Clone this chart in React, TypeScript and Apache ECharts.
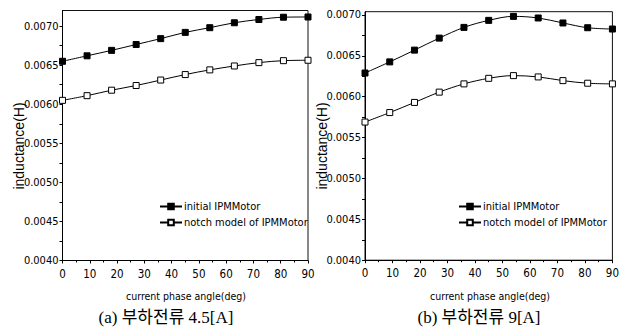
import React, { useEffect, useRef } from "react";
import * as echarts from "echarts";

const angles = [0, 9, 18, 27, 36, 45, 54, 63, 72, 81, 90];
const initialA = [0.00655, 0.00662, 0.00669, 0.006765, 0.00684, 0.00692, 0.00698, 0.007043, 0.007085, 0.007114, 0.007117];
const notchA = [0.00605, 0.00611, 0.00618, 0.00624, 0.00631, 0.00638, 0.00644, 0.00649, 0.006533, 0.006558, 0.006563];
const initialB = [0.00629, 0.006426, 0.00657, 0.006717, 0.006848, 0.006934, 0.006983, 0.006963, 0.006902, 0.006844, 0.006828];
const notchB = [0.00569, 0.005806, 0.00593, 0.006056, 0.006157, 0.006225, 0.006258, 0.006242, 0.006197, 0.006165, 0.006157];
const yTicks = [0.004, 0.0045, 0.005, 0.0055, 0.006, 0.0065, 0.007];
const yTicksAll = [0.004, 0.00425, 0.0045, 0.00475, 0.005, 0.00525, 0.0055, 0.00575, 0.006, 0.00625, 0.0065, 0.00675, 0.007];
const seriesNames = ["initial IPMMotor", "notch model of IPMMotor"];
const captions = ["(a) 부하전류 4.5[A]", "(b) 부하전류 9[A]"];
const xTitle = "current phase angle(deg)";
const yTitle = "inductance(H)";

const NARROW = "'DejaVu Sans Condensed', 'Liberation Sans Narrow', 'Liberation Sans', Arial, sans-serif";
const SANS = "'Liberation Sans', Arial, sans-serif";
const SERIF = "'Liberation Serif', 'Noto Sans CJK KR', serif";

export default function App() {
  const ref = useRef<HTMLDivElement>(null);
  useEffect(() => {
    document.body.style.margin = "0";
    const chart = echarts.init(ref.current!, null, { renderer: "svg" });
    const grids = [
      { left: 62.5, top: 10.5, width: 245.5, height: 250 },
      { left: 365, top: 11.7, width: 247.5, height: 248.5 },
    ];
    const yMax = [0.0072, 0.00704];
    const data = [
      [initialA, notchA],
      [initialB, notchB],
    ];
    const legendLeft = [154, 453];
    const xTitleX = [186, 490];
    const yTitleX = [19, 322];
    const capX = [166, 479];

    const series: any[] = [];
    data.forEach((pair, gi) => {
      pair.forEach((vals, si) => {
        series.push({
          type: "line",
          name: seriesNames[si],
          xAxisIndex: gi,
          yAxisIndex: gi,
          data: angles.map((a, i) => [a, vals[i]]),
          smooth: 0.35,
          symbol: "rect",
          symbolSize: 6,
          lineStyle: { color: "#000", width: 1 },
          itemStyle: si === 0
            ? { color: "#000", borderColor: "#000", borderWidth: 1 }
            : { color: "#fff", borderColor: "#000", borderWidth: 1 },
          z: si === 0 ? 3 : 2,
        });
      });
    });

    const graphic: any[] = [];
    [0, 1].forEach((gi) => {
      graphic.push({
        type: "text",
        x: xTitleX[gi],
        y: 296,
        style: { text: xTitle, font: `10.5px ${NARROW}`, fill: "#000", textAlign: "center", textVerticalAlign: "middle" },
      });
      graphic.push({
        type: "text",
        x: yTitleX[gi],
        y: 146,
        rotation: Math.PI / 2,
        style: { text: yTitle, font: `14px ${SANS}`, fill: "#000", textAlign: "center", textVerticalAlign: "middle" },
      });
      graphic.push({
        type: "text",
        x: capX[gi],
        y: 317,
        style: { text: captions[gi], font: `17px ${SERIF}`, fill: "#000", textAlign: "center", textVerticalAlign: "middle" },
      });
    });

    chart.setOption({
      animation: false,
      backgroundColor: "#fff",
      grid: grids.map((g) => ({ ...g, show: true, borderColor: "#111", borderWidth: 1, backgroundColor: "transparent" })),
      xAxis: [0, 1].map((gi) => ({
        type: "value",
        gridIndex: gi,
        min: 0,
        max: 90,
        interval: 10,
        axisLine: { show: true, lineStyle: { color: "#000", width: 1 } },
        axisTick: { show: true, length: 3, inside: false, lineStyle: { color: "#000" } },
        minorTick: { show: true, splitNumber: 2, length: 2, lineStyle: { color: "#000" } },
        splitLine: { show: false },
        axisLabel: { color: "#000", fontFamily: NARROW, fontSize: 11.5, margin: 7 },
      })),
      yAxis: [0, 1].map((gi) => ({
        type: "value",
        gridIndex: gi,
        min: 0.004,
        max: yMax[gi],
        axisLine: { show: true, lineStyle: { color: "#000", width: 1 } },
        axisTick: { show: true, length: 3, customValues: yTicksAll, lineStyle: { color: "#000" } },
        splitLine: { show: false },
        axisLabel: {
          color: "#000",
          fontFamily: NARROW,
          fontSize: 11,
          margin: 4,
          customValues: yTicks,
          formatter: (v: number) => v.toFixed(4),
        },
      })),
      legend: [0, 1].map((gi) => ({
        orient: "vertical",
        left: legendLeft[gi],
        top: 196,
        itemWidth: 22,
        itemHeight: 7,
        itemGap: 5,
        textStyle: { color: "#000", fontFamily: NARROW, fontSize: 11, padding: [0, 0, 0, -3] },
        data: seriesNames,
        backgroundColor: "transparent",
      })),
      series,
      graphic,
    });
    return () => chart.dispose();
  }, []);
  return <div ref={ref} style={{ width: 622, height: 332, background: "#fff" }} />;
}
